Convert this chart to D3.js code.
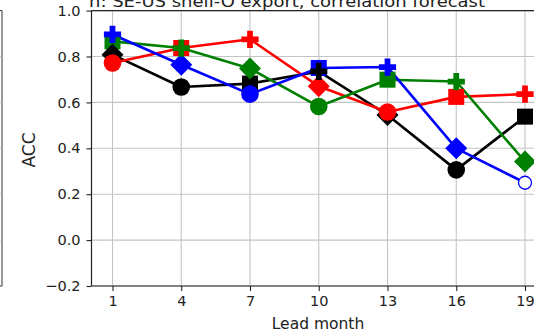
<!DOCTYPE html>
<html><head><meta charset="utf-8">
<script src="https://cdn.jsdelivr.net/npm/d3@7"></script>
<style>body{margin:0;background:#fff}svg{display:block}text{font-family:"DejaVu Sans",sans-serif;fill:#222}</style>
</head><body><svg id="c" width="534" height="335"></svg>
<script>
const leads = [1, 4, 7, 10, 13, 16, 19];
const yTicks = [-0.2, 0.0, 0.2, 0.4, 0.6, 0.8, 1.0];
const redVals   = [0.772, 0.837, 0.875, 0.670, 0.558, 0.624, 0.636];
const greenVals = [0.866, 0.837, 0.748, 0.582, 0.699, 0.691, 0.342];
const blueVals  = [0.896, 0.764, 0.636, 0.750, 0.754, 0.400, 0.250];
const blackVals = [0.808, 0.667, 0.682, 0.735, 0.545, 0.306, 0.538];
const redMarks   = ["circle", "square", "plus", "diamond", "circle", "square", "plus"];
const greenMarks = ["square", "plus", "diamond", "circle", "square", "plus", "diamond"];
const blueMarks  = ["plus", "diamond", "circle", "square", "plus", "diamond", "open"];
const blackMarks = ["diamond", "circle", "square", "plus", "diamond", "circle", "square"];
const series = [
  {name: "black", color: "#000000", vals: blackVals, marks: blackMarks},
  {name: "red", color: "#ff0000", vals: redVals, marks: redMarks},
  {name: "green", color: "#008000", vals: greenVals, marks: greenMarks},
  {name: "blue", color: "#0000ff", vals: blueVals, marks: blueMarks}
];
const titleText = "n: SE-US shelf-O export, correlation forecast";

const svg = d3.select("#c");
const axL = 91.5, axT = 10.6, axB = 286;
const x = d3.scaleLinear().domain([1, 19]).range([112.5, 525]);
const y = d3.scaleLinear().domain([-0.2, 1.0]).range([axB, axT]);

// neighbour panel remnant
const nb = svg.append("g");
nb.append("line").attr("x1", 2).attr("x2", 2).attr("y1", axT).attr("y2", axB).attr("stroke", "#333").attr("stroke-width", 1);
nb.append("line").attr("x1", 0).attr("x2", 2).attr("y1", axT).attr("y2", axT).attr("stroke", "#333").attr("stroke-width", 1);
nb.append("line").attr("x1", 0).attr("x2", 2).attr("y1", axB).attr("y2", axB).attr("stroke", "#333").attr("stroke-width", 1);
yTicks.slice(1, -1).forEach(t => nb.append("line").attr("x1", 0).attr("x2", 2).attr("y1", y(t)).attr("y2", y(t)).attr("stroke", "#bbb"));

// grid
const grid = svg.append("g");
leads.forEach(l => grid.append("line").attr("x1", x(l)).attr("x2", x(l)).attr("y1", axT).attr("y2", axB).attr("stroke", "#c4c4c4").attr("stroke-width", 1.1));
yTicks.forEach(t => grid.append("line").attr("x1", axL).attr("x2", 534).attr("y1", y(t)).attr("y2", y(t)).attr("stroke", "#c4c4c4").attr("stroke-width", 1.1));

// axes
const xAxis = d3.axisBottom(x).tickValues(leads).tickFormat(d3.format("d")).tickSizeOuter(0).tickSize(5).tickPadding(5);
const gx = svg.append("g").attr("transform", `translate(0,${axB})`).call(xAxis);
gx.select(".domain").remove();
gx.append("line").attr("x1", axL).attr("x2", 534).attr("y1", 0).attr("y2", 0).attr("stroke", "#222").attr("stroke-width", 1.2);
const yAxis = d3.axisLeft(y).tickValues(yTicks).tickFormat(d => d3.format(".1f")(d).replace("-", "\u2212")).tickSizeOuter(0).tickSize(5).tickPadding(6);
const gy = svg.append("g").attr("transform", `translate(${axL},0)`).call(yAxis);
gy.select(".domain").remove();
gy.append("line").attr("x1", 0).attr("x2", 0).attr("y1", axT).attr("y2", axB).attr("stroke", "#222").attr("stroke-width", 1.2);
svg.append("line").attr("x1", axL).attr("x2", 534).attr("y1", axT).attr("y2", axT).attr("stroke", "#222").attr("stroke-width", 1.2);
svg.selectAll(".tick line").attr("stroke", "#222").attr("stroke-width", 1.1);
svg.selectAll(".tick text").attr("font-size", 14.5).attr("fill", "#222").attr("font-family", "DejaVu Sans");

// labels
svg.append("text").attr("x", 318).attr("y", 329).attr("text-anchor", "middle").attr("font-size", 15.5).text("Lead month");
svg.append("text").attr("transform", "translate(35,150) rotate(-90)").attr("text-anchor", "middle").attr("font-size", 17).text("ACC");
svg.append("text").attr("x", 89).attr("y", 6.5).attr("font-size", 16).attr("textLength", 396).attr("lengthAdjust", "spacingAndGlyphs").text(titleText);

// lines
const line = d3.line().x((d, i) => x(leads[i])).y(d => y(d));
series.forEach(s => svg.append("path").attr("d", line(s.vals)).attr("fill", "none").attr("stroke", s.color).attr("stroke-width", 2.6).attr("stroke-linejoin", "round"));

// markers
const pts = [];
series.forEach(s => s.vals.forEach((v, i) => pts.push({x: leads[i], v, m: s.marks[i], c: s.color})));
const order = {square: 0, diamond: 1, circle: 2, open: 3, plus: 4};
pts.sort((a, b) => order[a.m] - order[b.m]);
const g = svg.append("g");
pts.forEach(p => {
  const cx = x(p.x), cy = y(p.v);
  if (p.m === "circle") g.append("circle").attr("cx", cx).attr("cy", cy).attr("r", 8.8).attr("fill", p.c);
  else if (p.m === "open") g.append("circle").attr("cx", cx).attr("cy", cy).attr("r", 6.5).attr("fill", "white").attr("stroke", p.c).attr("stroke-width", 1.3);
  else if (p.m === "square") g.append("rect").attr("x", cx - 8).attr("y", cy - 8).attr("width", 16).attr("height", 16).attr("fill", p.c);
  else if (p.m === "diamond") { const h = 11; g.append("path").attr("d", `M${cx},${cy - h}L${cx + h},${cy}L${cx},${cy + h}L${cx - h},${cy}Z`).attr("fill", p.c); }
  else if (p.m === "plus") g.append("path").attr("transform", `translate(${cx},${cy})`).attr("d", d3.symbol(d3.symbolCross, 165)()).attr("fill", p.c);
});
</script></body></html>
